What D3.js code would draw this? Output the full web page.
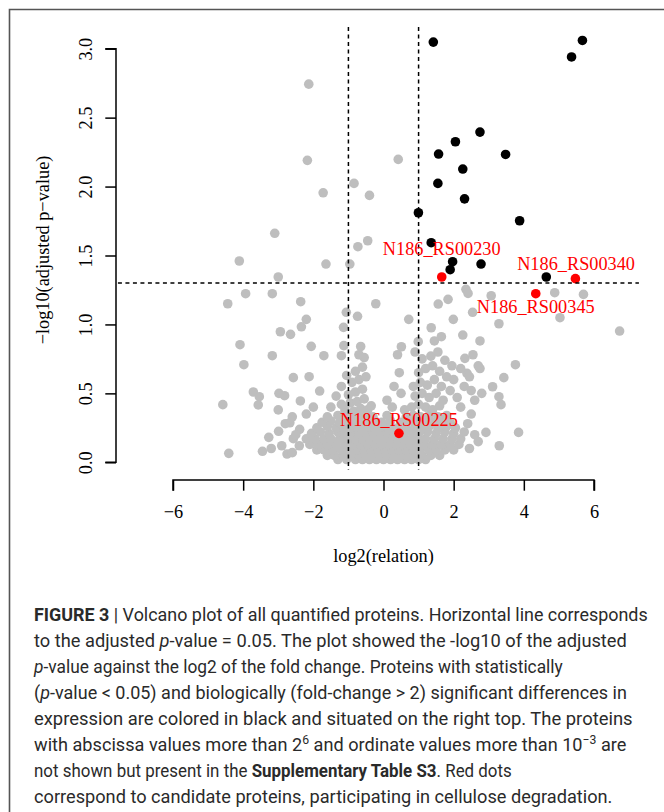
<!DOCTYPE html>
<html><head><meta charset="utf-8">
<script src="https://cdn.jsdelivr.net/npm/d3@7"></script>
<style>body{margin:0;background:#fff}svg{display:block}</style>
</head><body>
<svg id="c" width="664" height="812"></svg>
<script>
// ---- data ----
const xTicks = [-6,-4,-2,0,2,4,6];
const yTicks = [0,0.5,1,1.5,2,2.5,3];
const fcThreshold = [-1, 1];
const pThreshold = 1.301;
// gray (non significant) proteins: [log2(relation), -log10(adj p)]
const grayX = [-2.13,-2.17,0.42,-0.84,-1.72,-0.40,-3.10,-0.45,-0.73,-4.11,-1.64,-0.96,-3.00,-3.93,-3.17,-4.44,-2.36,-0.22,-1.06,-0.74,-2.20,-2.34,-1.14,0.72,1.36,-2.94,-2.65,6.73,3.29,5.03,2.35,2.41,1.84,1.56,3.07,4.88,5.70,2.54,1.99,1.65,2.26,2.75,0.99,-4.09,-2.06,-1.13,0.51,-3.17,-1.70,-1.20,-3.98,3.76,3.43,-2.57,-2.12,-4.58,-3.71,-3.54,-3.57,-2.98,-2.82,-2.37,-1.82,-4.41,3.85,2.92,3.29,3.35,3.11,2.38,2.32,2.70,2.75,-2.67,-3.27,-2.99,-3.20,-2.90,-2.57,-2.39,-3.45,-2.75,-2.60,-3.00,
 -1.3,-1.05,-0.8,-0.6,-0.4,-0.2,0,0.2,0.4,0.6,0.8,1.0,1.2,
 -1.6,-1.4,-1.15,-0.9,-0.7,-0.5,-0.3,-0.1,0.1,0.3,0.5,0.7,0.9,1.1,1.35,1.6,
 -1.9,-1.7,-1.45,-1.2,-1.0,-0.75,-0.55,-0.35,-0.15,0.05,0.25,0.45,0.65,0.85,1.05,1.3,1.5,1.75,2.0,
 -2.1,-1.85,-1.6,-1.35,-1.1,-0.85,-0.65,-0.45,-0.25,-0.05,0.15,0.35,0.55,0.75,0.95,1.15,1.4,1.65,1.9,2.15,
 -2.2,-1.95,-1.7,-1.5,-1.25,-1.0,-0.8,-0.6,-0.4,-0.2,0.0,0.2,0.4,0.6,0.8,1.0,1.2,1.45,1.7,1.95,2.2,
 -2.05,-1.8,-1.55,-1.3,-1.1,-0.9,-0.7,-0.5,-0.3,-0.1,0.1,0.3,0.6,0.8,1.0,1.25,1.5,1.75,2.0,2.3,
 -1.9,-1.6,-1.35,-1.15,-0.95,-0.75,-0.55,-0.35,-0.15,0.05,0.25,0.45,0.65,0.9,1.1,1.3,1.55,1.8,2.05,
 -1.75,-1.5,-1.25,-1.05,-0.85,-0.65,-0.45,-0.25,-0.05,0.2,0.5,0.75,0.95,1.15,1.4,1.65,1.9,
 -1.6,-1.3,-1.05,-0.9,-0.7,-0.5,-0.3,0.1,0.65,0.85,1.05,1.3,1.55,1.8,
 -1.1,-0.85,-0.65,-0.45,-1.2,-0.95,-0.75,-0.55,-0.35,-1.0,-0.8,-0.6,-0.9,-0.7,-0.5,-0.8,-0.6,-1.05,-0.55,-0.7,-0.65,-1.2,-1.35,-1.5,
 0.1,0.3,0.45,0.25,0.5,0.6,0.4,
 0.8,1.0,1.2,1.4,1.6,0.9,1.1,1.3,1.5,1.7,0.85,1.05,1.25,1.45,1.65,1.9,2.1,1.0,1.2,1.4,1.6,1.8,2.0,1.1,1.35,1.55,1.75,1.95,2.2,0.9,1.45,2.3,2.5,2.6,2.8,2.45,2.55,
 -2.5,-2.8,-2.4,-2.6,2.45,2.6,2.4,2.7,2.5,3.3,-2.2,-2.0,2.2];
const grayY = [2.743,2.19,2.197,2.023,1.955,1.936,1.661,1.607,1.564,1.46,1.438,1.438,1.344,1.223,1.223,1.15,1.165,1.15,1.088,1.059,1.037,0.983,0.979,1.037,0.976,0.947,0.928,0.952,1.005,1.049,1.255,1.225,1.182,1.148,1.208,1.23,1.218,1.088,1.037,0.911,0.923,0.88,0.875,0.853,0.841,0.846,0.838,0.773,0.773,0.773,0.708,0.708,0.614,0.614,0.621,0.418,0.51,0.476,0.416,0.50,0.483,0.445,0.517,0.065,0.217,0.217,0.476,0.418,0.548,0.645,0.754,0.70,0.68,0.287,0.181,0.225,0.10,0.12,0.171,0.239,0.08,0.06,0.33,0.38,
 0.02,0.02,0.02,0.02,0.02,0.02,0.02,0.02,0.02,0.02,0.02,0.02,0.02,
 0.05,0.05,0.05,0.05,0.05,0.05,0.05,0.05,0.05,0.05,0.05,0.05,0.05,0.05,0.05,0.05,
 0.09,0.09,0.09,0.09,0.09,0.09,0.09,0.09,0.09,0.09,0.09,0.09,0.09,0.09,0.09,0.09,0.09,0.09,0.09,
 0.13,0.13,0.13,0.13,0.13,0.13,0.13,0.13,0.13,0.13,0.13,0.13,0.13,0.13,0.13,0.13,0.13,0.13,0.13,0.13,
 0.17,0.17,0.17,0.17,0.17,0.17,0.17,0.17,0.17,0.17,0.17,0.17,0.17,0.17,0.17,0.17,0.17,0.17,0.17,0.17,0.17,
 0.21,0.22,0.21,0.22,0.21,0.22,0.21,0.22,0.21,0.22,0.21,0.22,0.21,0.22,0.21,0.22,0.21,0.22,0.21,0.22,
 0.25,0.26,0.25,0.26,0.25,0.26,0.25,0.26,0.25,0.26,0.25,0.26,0.25,0.26,0.25,0.26,0.25,0.26,0.25,
 0.29,0.30,0.29,0.30,0.29,0.30,0.29,0.30,0.29,0.30,0.29,0.30,0.29,0.30,0.29,0.30,0.29,
 0.33,0.34,0.33,0.34,0.33,0.34,0.33,0.34,0.33,0.34,0.33,0.34,0.33,0.34,
 0.38,0.37,0.39,0.38,0.42,0.43,0.44,0.46,0.41,0.49,0.51,0.53,0.58,0.60,0.62,0.66,0.69,0.63,0.76,0.78,0.84,0.55,0.48,0.40,
 0.45,0.55,0.65,0.40,0.50,0.38,0.78,
 0.40,0.42,0.40,0.38,0.41,0.48,0.50,0.47,0.50,0.45,0.55,0.58,0.56,0.60,0.55,0.52,0.47,0.65,0.68,0.70,0.66,0.62,0.60,0.75,0.77,0.80,0.74,0.70,0.68,0.80,0.88,0.55,0.52,0.45,0.50,0.62,0.78,
 0.20,0.28,0.12,0.07,0.10,0.20,0.28,0.15,0.35,0.12,0.35,0.40,0.40];
// significant proteins (black)
const sigX = [1.42,5.67,5.36,2.75,2.05,1.57,3.48,2.26,1.55,2.31,0.995,3.88,1.36,1.97,2.78,1.90,4.64];
const sigY = [3.048,3.06,2.94,2.395,2.325,2.236,2.233,2.127,2.023,1.911,1.81,1.752,1.593,1.455,1.438,1.397,1.344];
// candidate cellulose-degradation proteins (red)
const candNames = ["N186_RS00230","N186_RS00340","N186_RS00345","N186_RS00225"];
const candX = [1.66,5.47,4.34,0.44];
const candY = [1.344,1.332,1.223,0.21];
const labelX = [1.66,5.49,4.34,0.44];
const labelY = [1.545,1.436,1.124,0.307];

// ---- layout ----
const svg = d3.select("#c");
const x = d3.scaleLinear().domain([-6,6]).range([173,594]);
const y = d3.scaleLinear().domain([0,3]).range([462.3,48.7]);
const usr = {x0:-7.57, x1:7.28, y0:-0.056, y1:3.157};
const serif = "'Liberation Serif','Times New Roman',serif";
const FS = 18.3;
const R = 4.8;

// frame
svg.append("path").attr("d","M9.5,812 V9.5 H664").attr("fill","none").attr("stroke","#555").attr("stroke-width",1.6);

const gray = grayX.map((v,i)=>[v,grayY[i]]);
svg.append("g").selectAll("circle").data(gray).join("circle")
  .attr("cx",d=>x(d[0])).attr("cy",d=>y(d[1])).attr("r",R).attr("fill","#BEBEBE");
svg.append("g").selectAll("circle").data(sigX.map((v,i)=>[v,sigY[i]])).join("circle")
  .attr("cx",d=>x(d[0])).attr("cy",d=>y(d[1])).attr("r",R).attr("fill","#000");
svg.append("g").selectAll("circle").data(candX.map((v,i)=>[v,candY[i]])).join("circle")
  .attr("cx",d=>x(d[0])).attr("cy",d=>y(d[1])).attr("r",R).attr("fill","#FF0000");

// threshold lines
const dash = "4,3.5";
fcThreshold.forEach(v=>{
  svg.append("line").attr("x1",x(v)).attr("x2",x(v)).attr("y1",y(usr.y1)).attr("y2",y(usr.y0))
    .attr("stroke","#000").attr("stroke-width",1.5).attr("stroke-dasharray",dash);
});
svg.append("line").attr("x1",x(usr.x0)).attr("x2",x(usr.x1)).attr("y1",y(pThreshold)).attr("y2",y(pThreshold))
  .attr("stroke","#000").attr("stroke-width",1.5).attr("stroke-dasharray",dash);

// labels
svg.append("g").selectAll("text").data(candNames).join("text")
  .attr("x",(d,i)=>x(labelX[i])).attr("y",(d,i)=>y(labelY[i]))
  .attr("text-anchor","middle").attr("dominant-baseline","central")
  .attr("font-family",serif).attr("font-size",FS).attr("fill","#FF0000").text(d=>d);

// axes
const fmtX = d=> d<0 ? "\u2212"+Math.abs(d) : String(d);
const gx = svg.append("g").attr("transform","translate(0,480)")
  .call(d3.axisBottom(x).tickValues(xTicks).tickSize(10.7).tickPadding(14).tickFormat(fmtX));
const gy = svg.append("g").attr("transform","translate(116,0)")
  .call(d3.axisLeft(y).tickValues(yTicks).tickSize(10.7).tickFormat(d3.format(".1f")));
[gx,gy].forEach(g=>{
  g.select(".domain").attr("stroke","#000").attr("stroke-width",1.5);
  g.selectAll(".tick line").attr("stroke","#000").attr("stroke-width",1.5);
  g.selectAll("text").attr("font-family",serif).attr("font-size",FS).attr("fill","#000");
});
gx.select(".domain").attr("d",`M${x(-6)},10.7V0H${x(6)}V10.7`);
gy.select(".domain").attr("d",`M-10.7,${y(3)}H0V${y(0)}H-10.7`);
gy.selectAll(".tick text").attr("x",null).attr("dy",null)
  .attr("transform","translate(-30,0) rotate(-90)").attr("text-anchor","middle").attr("dominant-baseline","central");

svg.append("text").attr("x",383.5).attr("y",556).attr("text-anchor","middle").attr("dominant-baseline","central")
  .attr("font-family",serif).attr("font-size",FS).text("log2(relation)");
svg.append("text").attr("transform","translate(43,250) rotate(-90)").attr("text-anchor","middle").attr("dominant-baseline","central")
  .attr("font-family",serif).attr("font-size",FS).text("\u2212log10(adjusted p\u2212value)");

// caption
const capLines = [
  [["FIGURE 3","b"],[" | Volcano plot of all quantified proteins. Horizontal line corresponds",""]],
  [["to the adjusted ",""],["p","i"],["-value = 0.05. The plot showed the -log10 of the adjusted",""]],
  [["p","i"],["-value against the log2 of the fold change. Proteins with statistically",""]],
  [["(",""],["p","i"],["-value < 0.05) and biologically (fold-change > 2) significant differences in",""]],
  [["expression are colored in black and situated on the right top. The proteins",""]],
  [["with abscissa values more than 2",""],["6","s"],[" and ordinate values more than 10",""],["\u22123","s"],[" are",""]],
  [["not shown but present in the ",""],["Supplementary Table S3","b"],[". Red dots",""]],
  [["correspond to candidate proteins, participating in cellulose degradation.",""]]
];
const capRight = [648,627,563,627,633,627,512,613];
const capLeft = 34, capBase0 = 621, capStep = 26;
capLines.forEach((line,i)=>{
  const g = svg.append("g");
  const t = g.append("text").attr("x",0).attr("y",0)
    .attr("font-family","'Liberation Sans Narrow','Roboto','Liberation Sans',sans-serif").attr("font-size",18.5)
    .attr("fill","#2a2a2a");
  line.forEach(([s,st])=>{
    const ts = t.append("tspan").text(s);
    if(st==="b") ts.attr("font-weight","bold");
    if(st==="i") ts.attr("font-style","italic");
    if(st==="s") ts.attr("baseline-shift","super").attr("font-size",12.5);
  });
  const w = t.node().getComputedTextLength();
  const sx = (capRight[i]-capLeft)/w;
  g.attr("transform",`translate(${capLeft},${capBase0+i*capStep}) scale(${sx},1)`);
});
</script>
</body></html>
